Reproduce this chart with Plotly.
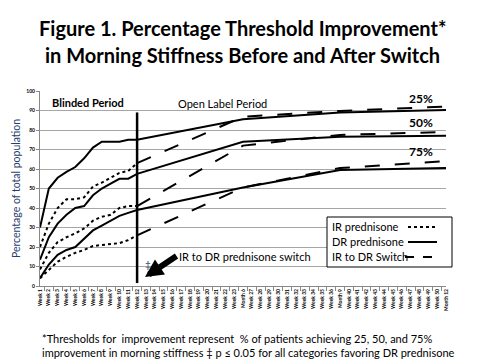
import plotly.graph_objects as go

categories = ([f"Week {w}" for w in range(1, 24)] + ["Month 6"] +
              [f"Week {w}" for w in range(27, 37)] + ["Month 9"] +
              [f"Week {w}" for w in range(40, 51)] + ["Month 12"])

# Blinded period (Week 1 - Week 12)
ir_25 = [20, 32, 40, 44.5, 44.5, 45.5, 51, 53, 55.5, 58, 59, 63]
ir_50 = [8.5, 17, 22.5, 25, 27, 29.5, 33.5, 35.5, 36.5, 40, 41, 41]
ir_75 = [4, 8, 12.5, 15, 17, 18.5, 20.5, 21, 21.5, 22, 23.5, 26]
dr_25 = [30, 50, 55.5, 58.5, 61, 65.5, 71, 74, 74, 74, 75, 75]
dr_50 = [13.5, 25, 32, 36.5, 40, 41, 46.5, 50, 52.5, 55, 55, 57.5]
dr_75 = [4, 11, 16, 18.5, 20, 24.5, 28.5, 31, 33.5, 36, 37.5, 39]
# Open label period: Month 6, Month 9, Month 12
dr_25_ol = [85.5, 89, 90.3]
dr_50_ol = [74, 76.5, 77]
dr_75_ol = [50.5, 59.5, 60.5]
sw_25_ol = [86.8, 89.8, 92]
sw_50_ol = [72, 77.5, 79]
sw_75_ol = [50.5, 60.5, 64]

legend_names = ["IR prednisone", "DR prednisone", "IR to DR Switch"]
legend_dashes = ["dot", "solid", "dash"]

n = len(categories)
i6, i9, i12 = categories.index("Month 6"), categories.index("Month 9"), categories.index("Month 12")

W, H = 480, 360
ML, MR, MT, MB = 40, 34, 91, 74
PW, PH = W - ML - MR, H - MT - MB


def px(x):
    return (x - ML) / PW


def py(y):
    return (H - MB - y) / PH


def blinded(vals):
    return vals + [None] * (n - len(vals))


def with_open(vals, ol):
    y = blinded(vals)
    y[i6], y[i9], y[i12] = ol
    return y


def switch(start, ol):
    y = [None] * n
    y[11] = start
    y[i6], y[i9], y[i12] = ol
    return y


FONT = "Lato"
fig = go.Figure()
specs = [
    (legend_names[0], "dot", [blinded(ir_25), blinded(ir_50), blinded(ir_75)]),
    (legend_names[1], "solid", [with_open(dr_25, dr_25_ol), with_open(dr_50, dr_50_ol), with_open(dr_75, dr_75_ol)]),
    (legend_names[2], "longdash", [switch(ir_25[-1], sw_25_ol), switch(ir_50[-1], sw_50_ol), switch(ir_75[-1], sw_75_ol)]),
]
for name, dash, ys in specs:
    for k, y in enumerate(ys):
        fig.add_trace(go.Scatter(
            x=categories, y=y, mode="lines", name=name, legendgroup=name,
            showlegend=False, connectgaps=True,
            line=dict(color="black", width=2, dash=dash)))

fig.add_shape(type="line", x0=11, x1=11, y0=1.5, y1=89, xref="x", yref="y",
              line=dict(color="black", width=2.5))

# custom legend (text left, line sample right)
fig.add_shape(type="rect", xref="paper", yref="paper", x0=px(327), x1=px(452), y0=py(267), y1=py(217),
              line=dict(color="black", width=1), fillcolor="white", layer="above")
for j, (nm, ds) in enumerate(zip(legend_names, legend_dashes)):
    yy = 226 + 15 * j
    fig.add_annotation(x=px(330), y=py(yy), xref="paper", yref="paper", text=nm, showarrow=False,
                       xanchor="left", yanchor="middle",
                       font=dict(family=FONT, size=11, color="black"))
    x0 = 405 if ds == "dash" else 408
    fig.add_shape(type="line", xref="paper", yref="paper", x0=px(x0), x1=px(437), y0=py(yy + 1), y1=py(yy + 1),
                  line=dict(color="black", width=2, dash=ds), layer="above")

ann = [
    dict(x=88, y=102, text="<b>Blinded Period</b>", size=11),
    dict(x=222, y=103, text="Open Label Period", size=11),
    dict(x=421, y=98, text="<b>25%</b>", size=12),
    dict(x=421, y=122, text="<b>50%</b>", size=12),
    dict(x=421, y=151, text="<b>75%</b>", size=12),
    dict(x=245, y=256, text="IR to DR prednisone switch", size=11),
    dict(x=148, y=264, text="‡", size=10, color="#1F3F6E"),
]
for a in ann:
    fig.add_annotation(x=px(a["x"]), y=py(a["y"]), xref="paper", yref="paper",
                       text=a["text"], showarrow=False, xanchor="center", yanchor="middle",
                       font=dict(family=FONT, size=a["size"], color=a.get("color", "black")))

# arrow pointing at the switch line
fig.add_annotation(x=px(145), y=py(277), xref="x domain", yref="y domain",
                   ax=px(178), ay=py(255), axref="x domain", ayref="y domain",
                   text="", showarrow=True, arrowhead=2, arrowsize=0.6, arrowwidth=6,
                   arrowcolor="black", standoff=0, startstandoff=0)

fig.add_annotation(x=px(242), y=py(28), xref="paper", yref="paper", showarrow=False,
                   text="<b>Figure 1. Percentage Threshold Improvement*</b>",
                   font=dict(family=FONT, size=20, color="black"), yanchor="middle")
fig.add_annotation(x=px(242), y=py(55), xref="paper", yref="paper", showarrow=False,
                   text="<b>in Morning Stiffness Before and After Switch</b>",
                   font=dict(family=FONT, size=20, color="black"), yanchor="middle")
fig.add_annotation(x=px(40), y=py(330), xref="paper", yref="paper", showarrow=False,
                   xanchor="left", yanchor="top", align="left",
                   text="*Thresholds for  improvement represent  % of patients achieving 25, 50, and 75%<br>"
                        "improvement in morning stiffness ‡ p ≤ 0.05 for all categories favoring DR prednisone",
                   font=dict(family=FONT, size=11, color="black"))

fig.update_layout(
    width=W, height=H,
    margin=dict(l=ML, r=MR, t=MT, b=MB, autoexpand=False),
    paper_bgcolor="white", plot_bgcolor="white",
    showlegend=False,
    xaxis=dict(type="category", tickangle=-90, tickson="boundaries", automargin=False,
               ticks="outside", ticklen=4, tickcolor="#888", showline=True,
               linecolor="#888", showgrid=False,
               tickfont=dict(family=FONT, size=5, color="black", weight="bold"), fixedrange=True),
    yaxis=dict(range=[0, 100], dtick=10, showgrid=True, gridcolor="#A6A6A6", automargin=False,
               ticks="outside", ticklen=3, tickcolor="#888", showline=True, linecolor="#888",
               tickfont=dict(family=FONT, size=5, color="black", weight="bold"),
               title=dict(text="Percentage of total population", standoff=3,
                          font=dict(family=FONT, size=10.5, color="#1F3F6E")), fixedrange=True),
)

fig.write_html("out.html", config={"displayModeBar": False},
               post_script="document.body.style.margin='0px';")
